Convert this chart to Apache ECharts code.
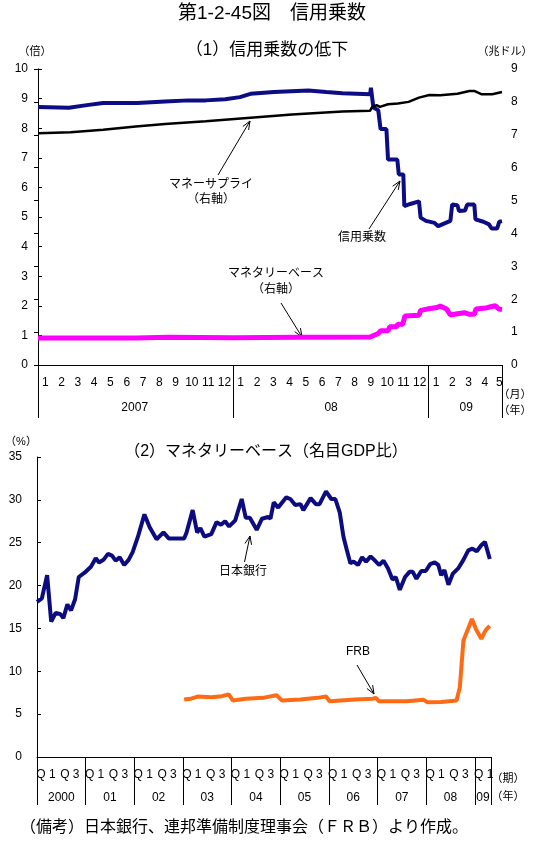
<!DOCTYPE html>
<html><head><meta charset="utf-8">
<script src="https://cdn.jsdelivr.net/npm/echarts@6/dist/echarts.min.js"></script>
<style>html,body{margin:0;padding:0;background:#fff}#c{width:538px;height:841px}</style>
</head><body><div id="c"></div>
<script>
// ---------- (1) 信用乗数の低下 : x = months since Jan 2007 ----------
const monthLabels = ['1','2','3','4','5','6','7','8','9','10','11','12',
                     '1','2','3','4','5','6','7','8','9','10','11','12',
                     '1','2','3','4','5'];
const yearLabels1 = ['2007','08','09'];
// 信用乗数 (left axis, 倍)
const mmX = [0,1.9,3,4,6.1,7.8,9.25,10.3,11.5,12.4,13.05,14.5,16.6,17.7,18.7,20.4,20.45,20.55,20.6,20.9,21.0,21.04,21.4,21.5,22.07,22.16,22.44,22.5,22.86,23.4,23.5,23.83,24.36,24.58,24.9,25.33,25.44,25.76,25.86,26.23,26.36,26.8,26.87,27.36,27.7,27.86,28.2,28.33,28.5];
const mmY = [8.72,8.69,8.78,8.85,8.85,8.9,8.94,8.94,8.98,9.05,9.16,9.22,9.27,9.22,9.18,9.15,9.37,9.37,8.70,8.61,8.6,7.97,7.97,6.94,6.94,6.44,6.44,5.37,5.44,5.53,4.98,4.87,4.8,4.69,4.77,4.87,5.42,5.40,5.2,5.22,5.42,5.42,4.92,4.84,4.75,4.61,4.61,4.84,4.86];
// マネーサプライ (right axis, 兆ドル)
const msX = [0,2,4,6,7.8,10.3,13.05,15.6,18.7,20.4,20.5,20.8,21.0,21.5,22.1,22.76,23.4,24.04,24.7,25.76,26.5,26.83,27.26,27.9,28.5];
const msY = [7.05,7.08,7.15,7.25,7.33,7.41,7.52,7.62,7.71,7.73,7.83,7.9,7.85,7.93,7.95,8.0,8.13,8.21,8.2,8.25,8.33,8.33,8.23,8.23,8.3];
// マネタリーベース (right axis, 兆ドル)
const mbX = [0,6,8,12,16,20.4,20.5,20.9,21.04,21.5,21.6,22.0,22.1,22.4,22.54,23.4,23.5,23.9,24.5,24.7,25.1,25.33,25.76,26.2,26.5,26.8,26.9,27.5,27.8,28.1,28.3,28.5];
const mbY = [0.82,0.82,0.84,0.83,0.84,0.85,0.91,0.96,1.04,1.04,1.16,1.16,1.24,1.24,1.49,1.51,1.66,1.7,1.75,1.79,1.70,1.52,1.56,1.59,1.54,1.54,1.70,1.73,1.77,1.8,1.70,1.69];

// ---------- (2) マネタリーベース（名目GDP比） : x = months since Jan 2000 ----------
const yearLabels2 = ['2000','01','02','03','04','05','06','07','08','09'];
const bojX = [0,1.2,2.5,3.5,4.6,5.7,6.5,7.5,8.4,9.4,10.3,11.75,13.3,14.5,15.3,16.4,17.5,18.5,19.4,20.4,21.5,22.6,23.6,24.9,26.5,27.8,29.5,31.2,32.5,33.7,36.3,36.9,38.4,39.5,40.3,41.3,43,44.3,45.4,46.4,47.4,48.9,50.5,51.5,52.5,54.2,55.5,57,57.6,58.4,59.5,61.5,62.5,63.7,65,65.7,67.5,68.8,69.7,71.3,72.6,73.6,74.7,75.6,76.4,77.3,78.1,79.2,80.2,81.2,82.3,83.2,84.4,85.5,86.6,87.7,88.5,89.5,90.8,91.9,92.7,93.6,94.8,95.9,97,98.1,99,99.7,100.5,101.5,102.6,103.9,105.2,106.4,107.4,108.5,109.6,110.5,111.7];
const bojY = [18.1,18.5,21.2,15.8,16.8,16.7,16.2,17.8,17.1,18.4,21.0,21.5,22.2,23.2,22.7,23.0,23.7,23.5,22.9,23.3,22.4,23.0,23.9,25.7,28.3,26.8,25.4,26.2,25.5,25.5,25.5,26.2,28.8,26.2,26.7,25.7,26.0,27.4,27.1,27.5,26.9,27.6,30.1,27.9,27.9,26.5,27.8,28.0,27.8,29.7,29.1,30.3,30.1,29.4,29.5,28.8,30.2,29.5,29.5,31.0,30.1,30.1,28.5,25.7,24.2,22.6,22.8,22.4,23.3,22.8,23.4,23.0,22.4,22.9,22.0,20.7,21.0,19.5,21.0,21.6,21.6,20.8,21.7,21.7,22.5,22.7,22.4,21.2,21.8,20.1,21.4,22.0,23.0,24.1,24.3,24.0,24.7,25.1,23.1];
const frbX = [36.3,38,39.6,43,45.6,47.3,48.3,51.5,55.7,59.1,60.4,65,69.2,71.3,72.2,78.5,82.8,83.6,84.4,91.2,95.4,96.3,99.7,103.5,104.3,105.2,106.3,107.3,108.3,109.6,110.7,111.7];
const frbY = [6.7,6.8,7.05,6.98,7.1,7.3,6.6,6.8,6.9,7.2,6.6,6.7,6.9,7.05,6.5,6.7,6.8,6.9,6.5,6.5,6.67,6.4,6.43,6.6,8.1,13.6,14.9,16.1,14.9,13.8,14.8,15.3];

const zip = (xs, ys) => xs.map((x, i) => [x, ys[i]]);
const FONT = "'Liberation Sans','Noto Sans CJK JP',sans-serif";

// label positions
const monthPos = monthLabels.map((_, i) => i === monthLabels.length - 1 ? 28.33 : i + 0.45);
const year1Pos = [5.94, 18, 26.3];
const qPos = [], qText = [];
yearLabels2.forEach((_, i) => {
  qPos.push(i * 12 + 2.2); qText.push('Q 1');
  if (i < yearLabels2.length - 1) { qPos.push(i * 12 + 8.1); qText.push('Q 3'); }
});
const year2Pos = yearLabels2.map((_, i) => i < yearLabels2.length - 1 ? i * 12 + 6 : 110);
const sep2 = yearLabels2.map((_, i) => i * 12).concat([112]);

function lookup(posArr, textArr) {
  return v => { for (let i = 0; i < posArr.length; i++) if (Math.abs(posArr[i] - v) < 1e-6) return textArr[i]; return ''; };
}

const black = '#000';
const axisLine = { show: true, lineStyle: { color: black, width: 1 } };
const lbl = { color: black, fontSize: 12, fontFamily: FONT };

function arrow(x1, y1, x2, y2) {
  const a = Math.atan2(y2 - y1, x2 - x1), L = 9, s = 0.38;
  const p1 = [x2 - L * Math.cos(a - s), y2 - L * Math.sin(a - s)];
  const p2 = [x2 - L * Math.cos(a + s), y2 - L * Math.sin(a + s)];
  return [
    { type: 'line', shape: { x1, y1, x2, y2 }, style: { stroke: black, lineWidth: 1 } },
    { type: 'polyline', shape: { points: [p1, [x2, y2], p2] }, style: { stroke: black, lineWidth: 1, fill: null } }
  ];
}
function txt(t, x, y, size, align, weight) {
  return { type: 'text', style: { text: t, x, y, fill: black, font: (weight || 'normal') + ' ' + size + 'px ' + FONT, textAlign: align || 'center', textVerticalAlign: 'middle' } };
}

const chart = echarts.init(document.getElementById('c'));
chart.setOption({
  animation: false,
  backgroundColor: '#fff',
  grid: [
    { left: 38, right: 36, top: 69, height: 296 },
    { left: 37, right: 47, top: 457, height: 300 }
  ],
  xAxis: [
    { gridIndex: 0, type: 'value', min: 0, max: 28.5, position: 'bottom', axisLine,
      axisTick: { show: true, customValues: [0, 12, 24, 28.5], length: 53, lineStyle: { color: black } },
      axisLabel: Object.assign({ customValues: monthPos, formatter: lookup(monthPos, monthLabels), margin: 12 }, lbl),
      splitLine: { show: false } },
    { gridIndex: 0, type: 'value', min: 0, max: 28.5, position: 'bottom', offset: 0,
      axisLine: { show: false }, axisTick: { show: false },
      axisLabel: Object.assign({ customValues: year1Pos, formatter: lookup(year1Pos, yearLabels1), margin: 37 }, lbl),
      splitLine: { show: false } },
    { gridIndex: 1, type: 'value', min: 0, max: 112, position: 'bottom', axisLine,
      axisTick: { show: true, customValues: sep2, length: 48, lineStyle: { color: black } },
      axisLabel: Object.assign({ customValues: qPos, formatter: lookup(qPos, qText), margin: 12 }, lbl),
      splitLine: { show: false } },
    { gridIndex: 1, type: 'value', min: 0, max: 112, position: 'bottom', offset: 0,
      axisLine: { show: false }, axisTick: { show: false },
      axisLabel: Object.assign({ customValues: year2Pos, formatter: lookup(year2Pos, yearLabels2), margin: 35 }, lbl),
      splitLine: { show: false } }
  ],
  yAxis: [
    { gridIndex: 0, type: 'value', min: 0, max: 10, interval: 1, position: 'left', axisLine,
      axisTick: { show: true, inside: true, length: 4, lineStyle: { color: black } },
      axisLabel: Object.assign({ margin: 10 }, lbl), splitLine: { show: false } },
    { gridIndex: 0, type: 'value', min: 0, max: 9, interval: 1, position: 'right', axisLine,
      axisTick: { show: true, inside: true, length: 4, lineStyle: { color: black } },
      axisLabel: Object.assign({ margin: 9 }, lbl), splitLine: { show: false } },
    { gridIndex: 1, type: 'value', min: 0, max: 35, interval: 5, position: 'left', axisLine,
      axisTick: { show: true, inside: true, length: 4, lineStyle: { color: black } },
      axisLabel: Object.assign({ margin: 15 }, lbl), splitLine: { show: false } }
  ],
  series: [
    { name: '信用乗数', type: 'line', xAxisIndex: 0, yAxisIndex: 0, data: zip(mmX, mmY), showSymbol: false,
      lineStyle: { color: '#0c0c85', width: 4 }, itemStyle: { color: '#0c0c85' } },
    { name: 'マネーサプライ', type: 'line', xAxisIndex: 0, yAxisIndex: 1, data: zip(msX, msY), showSymbol: false,
      lineStyle: { color: '#000', width: 2.5 }, itemStyle: { color: '#000' } },
    { name: 'マネタリーベース', type: 'line', xAxisIndex: 0, yAxisIndex: 1, data: zip(mbX, mbY), showSymbol: false,
      lineStyle: { color: '#ff00ff', width: 5 }, itemStyle: { color: '#ff00ff' } },
    { name: '日本銀行', type: 'line', xAxisIndex: 2, yAxisIndex: 2, data: zip(bojX, bojY), showSymbol: false,
      lineStyle: { color: '#0c0c80', width: 4 }, itemStyle: { color: '#0c0c80' } },
    { name: 'FRB', type: 'line', xAxisIndex: 2, yAxisIndex: 2, data: zip(frbX, frbY), showSymbol: false,
      lineStyle: { color: '#ff6a14', width: 4 }, itemStyle: { color: '#ff6a14' } }
  ],
  graphic: [].concat(
    [
      txt('第1-2-45図　信用乗数', 272, 14, 19),
      txt('（1）信用乗数の低下', 267, 50, 17),
      txt('（倍）', 35, 52, 11),
      txt('（兆ドル）', 505, 52, 11),
      txt('マネーサプライ', 211, 185, 12),
      txt('（右軸）', 211, 200, 12),
      txt('信用乗数', 362, 238, 12),
      txt('マネタリーベース', 276, 274, 12),
      txt('（右軸）', 276, 290, 12),
      txt('（月）', 515, 395, 11),
      txt('（年）', 515, 411, 11),
      txt('（%）', 21, 442, 11),
      txt('（2）マネタリーベース（名目GDP比）', 266, 452, 16),
      txt('日本銀行', 243, 572, 12),
      txt('FRB', 358, 652, 12),
      txt('（期）', 508, 779, 11),
      txt('（年）', 508, 797, 11),
      txt('（備考）日本銀行、連邦準備制度理事会（ＦＲＢ）より作成。', 20, 828, 16, 'left')
    ],
    arrow(218, 175, 250, 121),
    arrow(369, 229, 400, 181),
    arrow(281, 303, 302, 337),
    arrow(244.5, 562, 250, 536),
    arrow(357, 665, 374, 694)
  )
});
</script>
</body></html>
